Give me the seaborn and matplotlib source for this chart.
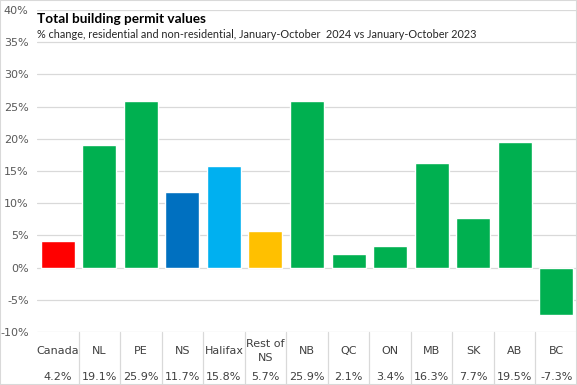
import matplotlib
matplotlib.use("Agg")
import matplotlib.pyplot as plt
import matplotlib.transforms as mtransforms
from matplotlib.patches import Rectangle
import seaborn as sns

# ── Data ───────────────────────────────────────────────────────────────────────
regions = ["Canada", "NL", "PE", "NS", "Halifax", "Rest of\nNS",
           "NB", "QC", "ON", "MB", "SK", "AB", "BC"]
changes = [4.2, 19.1, 25.9, 11.7, 15.8, 5.7, 25.9, 2.1, 3.4, 16.3, 7.7, 19.5, -7.3]
bar_colors = ["#FF0000", "#00B050", "#00B050", "#0070C0", "#00B0F0", "#FFC000",
              "#00B050", "#00B050", "#00B050", "#00B050", "#00B050", "#00B050", "#00B050"]
y_ticks = list(range(-10, 45, 5))

sns.set_style("white")
plt.rcParams["font.family"] = ["DejaVu Sans"]

fig = plt.figure(figsize=(5.77, 3.85), dpi=100)
ax = fig.add_axes([37 / 577, 53 / 385, 540 / 577, 322 / 385])

sns.barplot(x=list(range(len(regions))), y=changes, hue=list(range(len(regions))),
            palette=bar_colors, legend=False, width=0.82, saturation=1, ax=ax)

ax.set_xlim(-0.5, len(regions) - 0.5)
ax.set_ylim(-10, 40)
ax.set_yticks(y_ticks)
ax.set_yticklabels([f"{t}%" for t in y_ticks], fontsize=8, color="#595959")
ax.tick_params(axis="y", length=0, pad=6)
ax.set_xticks([])
ax.grid(axis="y", color="#D9D9D9", linewidth=0.9)
ax.set_axisbelow(True)
for s in ax.spines.values():
    s.set_visible(False)

# data table below the axis
trans = mtransforms.blended_transform_factory(ax.transData, fig.transFigure)
for i, (name, v) in enumerate(zip(regions, changes)):
    ax.text(i, 1 - 351 / 385, name, transform=trans, ha="center", va="center",
            fontsize=8, color="#404040", linespacing=1.5)
    ax.text(i, 1 - 377 / 385, f"{v:.1f}%", transform=trans, ha="center", va="center",
            fontsize=8, color="#404040")
for i in range(len(regions) - 1):
    ax.plot([i + 0.5, i + 0.5], [53 / 385, 0], transform=trans, color="#D9D9D9",
            linewidth=0.9, clip_on=False)

fig.text(37 / 577, 1 - 19 / 385, "Total building permit values", fontsize=9.8,
         fontweight="bold", family=["Lato", "DejaVu Sans"], va="center", ha="left",
         color="#000000")
fig.text(37 / 577, 1 - 35 / 385,
         "% change, residential and non-residential, January-October  2024 vs January-October 2023",
         fontsize=7.8, family=["Lato", "DejaVu Sans"], va="center", ha="left",
         color="#262626")

fig.patches.append(Rectangle((0, 0), 1, 1, transform=fig.transFigure, fill=False,
                             edgecolor="#D9D9D9", linewidth=1.5))

fig.savefig("out.png", dpi=100)
